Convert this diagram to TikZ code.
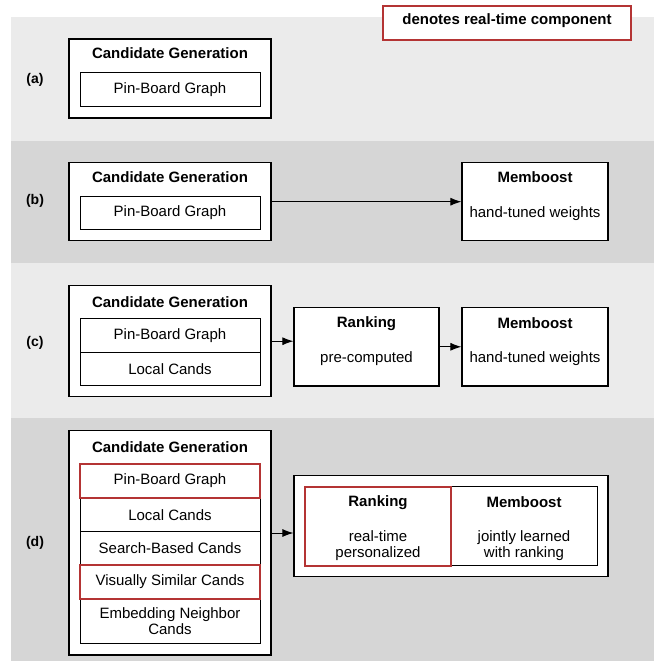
\documentclass[tikz,border=0pt]{standalone}
\usepackage{fontspec}
\setmainfont{Liberation Sans}
\usetikzlibrary{arrows.meta}
\definecolor{bandlight}{RGB}{235,235,235}
\definecolor{banddark}{RGB}{214,214,214}
\definecolor{rtred}{RGB}{180,52,52}
\begin{document}
\begin{tikzpicture}[x=1pt,y=-1pt,
  font=\fontsize{15}{16}\selectfont,
  box/.style={draw=black, line width=1.1pt, fill=white, inner sep=0pt},
  row/.style={draw=black, line width=1pt, fill=white, inner sep=0pt, minimum width=180pt, align=center},
  rt/.style={draw=rtred, line width=2pt},
  ttl/.style={font=\fontsize{15}{16}\selectfont\bfseries, inner sep=0pt},
  txt/.style={inner sep=0pt, align=center},
  lbl/.style={font=\fontsize{14}{16}\selectfont\bfseries, inner sep=0pt},
  arr/.style={-{Latex[length=11pt,width=8pt]}, line width=1pt}]
\useasboundingbox (0,0) rectangle (654,661);
% bands
\fill[bandlight] (11,16.7) rectangle (654,141);
\fill[banddark] (11,141) rectangle (654,263.3);
\fill[bandlight] (11,263.3) rectangle (654,418);
\fill[banddark] (11,418) rectangle (654,661);
% legend
\node[box, rt, minimum width=248pt, minimum height=34pt] (legend) at (507,22.8) {};
\node[ttl] (legendtxt) at (507,21) {denotes real-time component};
% (a)
\node[lbl] (la) at (35,80) {(a)};
\node[box, minimum width=202pt, minimum height=79pt] (cgA) at (170,78.5) {};
\node[ttl] (cgAt) at (170,53) {Candidate Generation};
\node[row, minimum height=34pt] (pbA) at (170,89.5) {Pin-Board Graph};
% (b)
\node[lbl] (lb) at (35,201) {(b)};
\node[box, minimum width=202pt, minimum height=78pt] (cgB) at (170,201.7) {};
\node[ttl] (cgBt) at (170,177) {Candidate Generation};
\node[row, minimum height=33pt] (pbB) at (170,212.7) {Pin-Board Graph};
\node[box, minimum width=146pt, minimum height=78pt] (memB) at (535,201.7) {};
\node[ttl] (memBt) at (535,177) {Memboost};
\node[txt] (memBs) at (535,214) {hand-tuned weights};
\draw[arr] (cgB.east) -- (memB.west);
% (c)
\node[lbl] (lc) at (35,342.7) {(c)};
\node[box, minimum width=202pt, minimum height=111pt] (cgC) at (170,341.2) {};
\node[ttl] (cgCt) at (170,301.7) {Candidate Generation};
\node[row, minimum height=33.7pt] (pbC) at (170,335.8) {Pin-Board Graph};
\node[row, minimum height=33.3pt] (lcC) at (170,369.3) {Local Cands};
\node[box, minimum width=145pt, minimum height=78.3pt] (rkC) at (366.5,346.8) {};
\node[ttl] (rkCt) at (366.5,323.3) {Ranking};
\node[txt] (rkCs) at (366.5,359) {pre-computed};
\node[box, minimum width=146pt, minimum height=78.3pt] (memC) at (535,346.8) {};
\node[ttl] (memCt) at (535,323.3) {Memboost};
\node[txt] (memCs) at (535,359) {hand-tuned weights};
\draw[arr] (cgC.east) -- (cgC.east -| rkC.west);
\draw[arr] (rkC.east) -- (memC.west);
% (d)
\node[lbl] (ld) at (35,543.3) {(d)};
\node[box, minimum width=202pt, minimum height=224.3pt] (cgD) at (170,542.8) {};
\node[ttl] (cgDt) at (170,446.7) {Candidate Generation};
\node[row, minimum height=33.7pt] (lcD) at (170,514.7) {Local Cands};
\node[row, minimum height=33.3pt] (sbD) at (170,548.3) {Search-Based Cands};
\node[row, minimum height=44.3pt] (enD) at (170,621.1) {Embedding Neighbor\\Cands};
\node[row, rt, minimum height=33.7pt] (pbD) at (170,480.8) {Pin-Board Graph};
\node[row, rt, minimum height=34pt] (vsD) at (170,582) {Visually Similar Cands};
\node[box, minimum width=314pt, minimum height=101pt] (outD) at (451,526.2) {};
\node[box, line width=1pt, minimum width=146pt, minimum height=79pt] (memD) at (524,526.2) {};
\node[box, rt, minimum width=146pt, minimum height=79pt] (rkD) at (378,526.2) {};
\node[ttl] (rkDt) at (378,502.3) {Ranking};
\node[txt] (rkDs) at (378,545.5) {real-time\\personalized};
\node[ttl] (memDt) at (524,502.3) {Memboost};
\node[txt] (memDs) at (524,545.5) {jointly learned\\with ranking};
\draw[arr] ([yshift=9.8pt]cgD.east) -- ([yshift=9.8pt]cgD.east -| outD.west);
\end{tikzpicture}
\end{document}
